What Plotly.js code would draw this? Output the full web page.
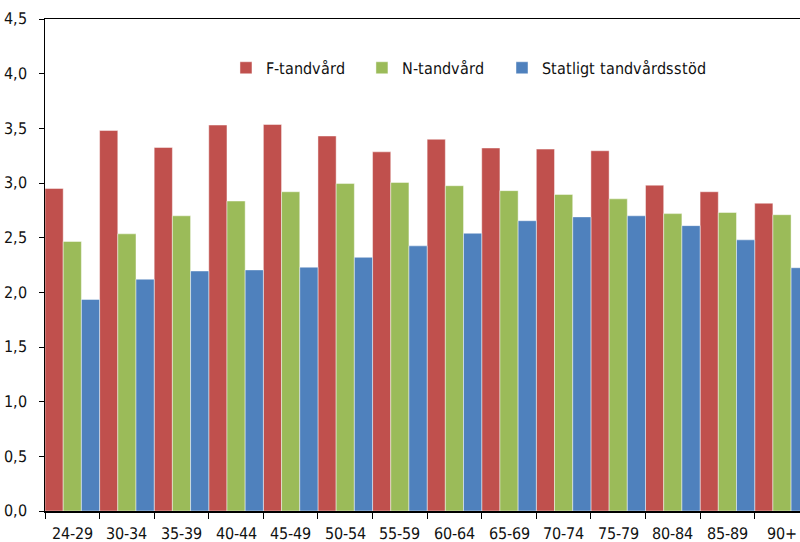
<!DOCTYPE html>
<html>
<head>
<meta charset="utf-8">
<script src="https://cdn.plot.ly/plotly-3.0.1.min.js"></script>
<style>
  @font-face {
    font-family: 'CondSans';
    src: local('Liberation Sans Narrow'), local('LiberationSansNarrow-Regular'),
         local('DejaVu Sans Condensed'), local('DejaVuSansCondensed');
  }
  html, body { margin: 0; padding: 0; background: #fff; }
  #chart { width: 800px; height: 542px; }
</style>
</head>
<body>
<div id="chart"></div>
<script>
// age groups and the three series
const ageGroups = ['24-29', '30-34', '35-39', '40-44', '45-49', '50-54', '55-59',
                   '60-64', '65-69', '70-74', '75-79', '80-84', '85-89', '90+'];
const fTandvard = [2.95, 3.48, 3.325, 3.53, 3.535, 3.43, 3.285, 3.40, 3.32, 3.31, 3.295, 2.98, 2.92, 2.815];
const nTandvard = [2.465, 2.535, 2.70, 2.835, 2.92, 2.995, 3.005, 2.975, 2.93, 2.895, 2.855, 2.72, 2.73, 2.71];
const statligt  = [1.935, 2.12, 2.195, 2.205, 2.23, 2.32, 2.425, 2.54, 2.655, 2.69, 2.70, 2.61, 2.48, 2.225];

const seriesNames = ['F-tandvård', 'N-tandvård', 'Statligt tandvårdsstöd'];
const seriesColors = ['#C0504D', '#9BBB59', '#4F81BD'];
const legendIds = ['legend', 'legend2', 'legend3'];
const legendX = [0.2397, 0.4198, 0.6053];

const FONT = 'CondSans, "Liberation Sans Narrow", "DejaVu Sans Condensed", sans-serif';
const SIZE = 15.5;

function draw() {
    // one legend per series so each entry sits where the original has it
    const traces = [fTandvard, nTandvard, statligt].map((vals, i) => ({
        type: 'bar',
        x: ageGroups,
        y: vals,
        name: seriesNames[i],
        legend: legendIds[i],
        marker: {
            color: seriesColors[i],
            line: { color: 'rgba(255,255,255,0.45)', width: 1 }
        },
        hoverinfo: 'none'
    }));

    const layout = {
        width: 800,
        height: 542,
        margin: { l: 45, r: 0, t: 19, b: 31 },
        paper_bgcolor: '#fff',
        plot_bgcolor: '#fff',
        font: { family: FONT, size: SIZE, color: '#111' },
        separators: ',.',
        barmode: 'group',
        bargap: 0,
        bargroupgap: 0,
        showlegend: true,
        xaxis: {
            type: 'category',
            range: [-0.5, 13.33],
            tickangle: 0,
            showline: true, linecolor: '#000', linewidth: 1.5,
            mirror: true,
            ticks: 'outside', tickson: 'boundaries', ticklen: 6, tickcolor: '#000', tickwidth: 1,
            ticklabelstandoff: 8,
            showgrid: false, zeroline: false,
            tickfont: { family: FONT, size: SIZE, color: '#111' }
        },
        yaxis: {
            range: [0, 4.5],
            dtick: 0.5,
            tickformat: '.1f',
            showline: true, linecolor: '#000', linewidth: 1.5,
            ticks: 'outside', ticklen: 5, tickcolor: '#000', tickwidth: 1,
            ticklabelstandoff: 8,
            showgrid: false, zeroline: false,
            tickfont: { family: FONT, size: SIZE, color: '#111' }
        }
    };

    legendIds.forEach((id, i) => {
        layout[id] = {
            orientation: 'h',
            x: legendX[i], xanchor: 'left',
            y: 0.9, yanchor: 'middle',
            font: { family: FONT, size: SIZE, color: '#111' },
            bgcolor: 'rgba(0,0,0,0)'
        };
    });

    Plotly.newPlot('chart', traces, layout, { displayModeBar: false, staticPlot: true });
}

document.fonts.load(SIZE + 'px CondSans').then(draw, draw);
</script>
</body>
</html>
